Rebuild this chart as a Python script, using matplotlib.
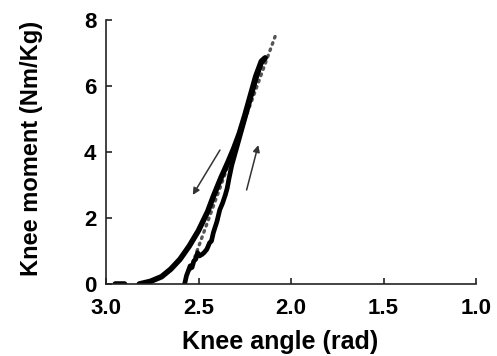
import numpy as np
import matplotlib
matplotlib.use("Agg")
import matplotlib.pyplot as plt

plt.rcParams['font.family'] = ['Liberation Sans', 'DejaVu Sans']

# Loading branch (smooth outer curve)
load_angle = [2.95, 2.90, np.nan, 2.82, 2.76, 2.70, 2.65, 2.60, 2.55, 2.50, 2.45,
              2.42, 2.38, 2.34, 2.31, 2.28, 2.25, 2.22, 2.19, 2.16, 2.14]
load_moment = [0.0, 0.0, np.nan, 0.0, 0.08, 0.22, 0.45, 0.75, 1.15, 1.62, 2.2,
               2.65, 3.2, 3.7, 4.1, 4.55, 5.1, 5.7, 6.3, 6.75, 6.85]

# Unloading branch (jagged inner curve)
unload_angle = [2.14, 2.16, 2.19, 2.22, 2.25, 2.28, 2.30, 2.32, 2.335, 2.345,
                2.355, 2.37, 2.385, 2.40, 2.42, 2.43, 2.44, 2.455, 2.47, 2.48,
                2.495, 2.505, 2.515, 2.525, 2.535, 2.545, 2.555, 2.565, 2.575]
unload_moment = [6.85, 6.7, 6.2, 5.6, 5.0, 4.4, 4.0, 3.6, 3.2, 2.9,
                 2.7, 2.45, 2.25, 1.9, 1.55, 1.3, 1.25, 1.05, 0.95, 0.9,
                 0.85, 0.95, 0.75, 0.7, 0.5, 0.55, 0.4, 0.25, 0.0]

# Linear fit of the stiff region
fit_angle = [2.545, 2.086]
fit_moment = [0.43, 7.5]

xticks = [3.0, 2.5, 2.0, 1.5, 1.0]
yticks = [0, 2, 4, 6, 8]

fig = plt.figure(figsize=(4.97, 3.56), dpi=100)
ax = fig.add_axes([106/497, 1-284/356, 370/497, 264/356])

ax.plot(fit_angle, fit_moment, color='#555555', lw=2.4,
        linestyle=(0, (0.5, 1.5)), dash_capstyle='round', zorder=1)
ax.plot(load_angle, load_moment, color='black', lw=4.0, solid_capstyle='round',
        solid_joinstyle='round', zorder=2)
ax.plot(unload_angle, unload_moment, color='black', lw=3.4, solid_capstyle='round',
        solid_joinstyle='round', zorder=2)

arrow_kw = dict(arrowstyle='-|>', color='#333333', lw=1.1, mutation_scale=10,
                shrinkA=0, shrinkB=0)
ax.annotate('', xy=(2.531, 2.70), xytext=(2.384, 4.06), arrowprops=arrow_kw)
ax.annotate('', xy=(2.177, 4.21), xytext=(2.24, 2.85), arrowprops=arrow_kw)

ax.set_xlim(3.0, 1.0)
ax.set_ylim(0, 8)
ax.set_xticks(xticks)
ax.set_xticklabels([f"{t:.1f}" for t in xticks])
ax.set_yticks(yticks)
ax.set_yticklabels([str(t) for t in yticks])

for s in ['top', 'right']:
    ax.spines[s].set_visible(False)
for s in ['left', 'bottom']:
    ax.spines[s].set_linewidth(1.2)
    ax.spines[s].set_color('#222222')

ax.tick_params(axis='both', direction='in', length=4, width=1.2, colors='#222222',
               labelcolor='black', labelsize=16)
ax.tick_params(axis='x', pad=10)
ax.tick_params(axis='y', pad=7)
for lab in ax.get_xticklabels() + ax.get_yticklabels():
    lab.set_fontweight('bold')

ax.set_xlabel('Knee angle (rad)', fontsize=18, fontweight='bold')
ax.set_ylabel('Knee moment (Nm/Kg)', fontsize=17, fontweight='bold')
ax.xaxis.set_label_coords(0.47, -0.175)
ax.yaxis.set_label_coords(-0.17, 0.515)

fig.savefig('out.png', dpi=100)
